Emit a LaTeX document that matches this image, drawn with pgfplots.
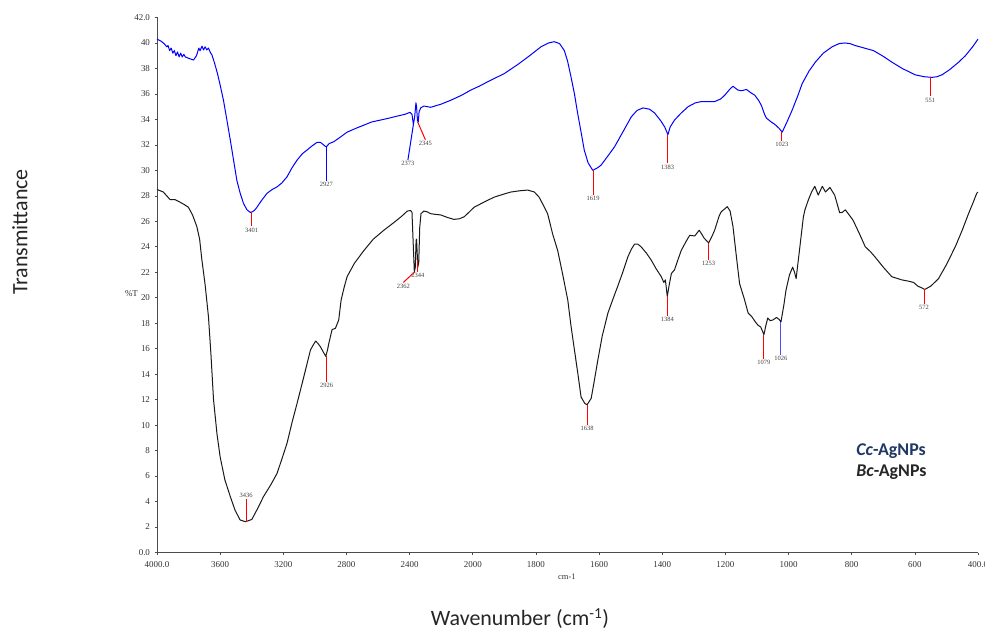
\documentclass[border=0pt]{standalone}
\usepackage{fontspec}
\setmainfont{Liberation Serif}
\newfontfamily\calibri{Carlito}
\usepackage{pgfplots}
\pgfplotsset{compat=1.18}
\usepackage{pgfplotstable}
\definecolor{ccblue}{HTML}{1F3864}
\newcommand\WNpos[1]{\fpeval{(#1>=2000) ? ((4000-#1)/400) : (5+(2000-#1)/200)}}
\tikzset{pk/.style={font=\fontsize{6.5}{6.5}\selectfont, text=black!75, inner sep=1bp}}

\pgfplotstableread{
wn T
4000 40.3
3975 40.15
3955 39.95
3938 39.7
3930 39.8
3920 39.4
3910 39.6
3900 39.2
3890 39.4
3880 39.0
3870 39.3
3860 38.9
3850 39.2
3840 38.9
3830 39.1
3820 38.9
3800 38.8
3769 38.66
3750 39.0
3735 39.6
3727 39.4
3715 39.75
3705 39.45
3695 39.7
3685 39.45
3674 39.6
3660 39.2
3653 39.1
3635 38.4
3617 37.6
3600 36.7
3579 35.5
3558 34.0
3536 32.4
3515 30.8
3494 29.2
3473 28.2
3452 27.4
3430 26.9
3409 26.7
3395 26.75
3380 26.9
3367 27.1
3340 27.6
3303 28.2
3270 28.5
3240 28.7
3210 29.0
3176 29.5
3145 30.2
3113 30.8
3080 31.3
3049 31.6
3020 31.9
2986 32.2
2965 32.2
2950 32.05
2935 31.9
2927 31.85
2910 32.1
2880 32.25
2840 32.6
2796 33.0
2740 33.3
2690 33.55
2640 33.8
2584 33.95
2530 34.1
2478 34.26
2430 34.4
2398 34.55
2385 34.4
2376 33.6
2368 34.2
2360 35.3
2356 35.0
2350 33.9
2345 33.8
2340 34.6
2330 34.9
2309 35.05
2267 34.95
2200 35.2
2140 35.5
2070 35.9
2013 36.3
1980 36.6
1953 36.95
1900 37.6
1858 38.3
1820 39.0
1784 39.7
1760 40.0
1742 40.1
1725 39.95
1710 39.4
1700 38.6
1689 37.35
1678 36.0
1668 34.5
1657 33.0
1647 31.6
1635 30.6
1620 30.0
1605 30.2
1594 30.4
1570 31.2
1551 31.85
1525 33.0
1498 34.2
1480 34.7
1461 34.9
1440 34.8
1424 34.5
1405 33.9
1392 33.4
1382 32.8
1375 33.4
1361 33.95
1340 34.5
1318 35.0
1295 35.3
1276 35.4
1255 35.4
1234 35.4
1215 35.6
1202 35.9
1185 36.4
1176 36.6
1160 36.3
1149 36.25
1133 36.35
1120 36.1
1107 35.9
1095 35.5
1086 35.1
1076 34.4
1070 34.1
1055 33.8
1043 33.6
1030 33.3
1020 33.0
1005 33.8
989 34.7
970 35.9
957 36.8
935 37.8
915 38.5
890 39.2
862 39.7
840 39.95
821 40.0
805 39.95
789 39.8
760 39.6
731 39.4
700 38.95
673 38.5
640 38.0
599 37.5
570 37.35
546 37.3
530 37.35
514 37.5
490 37.9
461 38.5
440 39.0
417 39.7
400 40.3
}\ccdata

\pgfplotstableread{
wn T
4000 28.5
3960 28.3
3917 27.7
3885 27.7
3854 27.5
3825 27.3
3801 27.1
3775 26.5
3748 25.6
3730 24.6
3716 23.0
3695 21.0
3674 18.5
3658 15.5
3642 12.0
3620 9.3
3600 7.5
3570 5.7
3536 4.4
3505 3.3
3473 2.55
3441 2.42
3420 2.5
3399 2.6
3365 3.4
3325 4.4
3280 5.3
3240 6.2
3210 7.3
3176 8.6
3145 10.2
3113 11.7
3070 13.8
3028 15.9
3010 16.3
2995 16.6
2980 16.4
2965 16.15
2945 15.7
2931 15.4
2920 15.9
2912 16.4
2891 17.5
2870 17.6
2849 18.25
2834 19.8
2815 20.8
2796 21.65
2750 22.7
2690 23.7
2630 24.6
2563 25.3
2500 25.9
2450 26.4
2415 26.8
2394 26.85
2385 26.7
2378 24.5
2370 22.0
2364 22.4
2359 24.5
2356 24.6
2352 23.5
2348 22.4
2342 22.8
2336 25.5
2328 26.6
2310 26.8
2290 26.75
2267 26.6
2240 26.55
2203 26.5
2160 26.3
2119 26.15
2085 26.2
2055 26.35
2025 26.7
1996 27.1
1965 27.5
1932 27.9
1900 28.15
1879 28.3
1850 28.4
1826 28.45
1805 28.3
1790 27.9
1773 27.1
1763 26.6
1747 25.0
1731 23.7
1715 21.8
1699 19.8
1689 17.8
1678 15.9
1667 14.0
1657 12.2
1645 11.7
1638 11.6
1625 12.1
1615 13.5
1604 15.1
1590 17.0
1572 18.8
1556 19.9
1541 20.9
1525 22.0
1509 23.2
1498 23.8
1488 24.2
1477 24.2
1467 24.0
1450 23.5
1435 22.96
1420 22.3
1403 21.65
1395 21.2
1390 21.4
1384 20.1
1378 21.0
1371 21.9
1361 22.2
1350 23.0
1340 23.7
1325 24.4
1313 24.9
1297 24.85
1283 25.3
1275 25.0
1268 24.7
1253 24.3
1243 24.8
1234 25.3
1220 26.4
1213 26.75
1194 27.15
1185 26.8
1176 25.6
1165 23.2
1155 21.1
1140 19.9
1128 18.8
1116 18.5
1105 18.1
1097 17.85
1088 17.7
1078 17.1
1072 17.8
1066 18.4
1058 18.2
1050 18.25
1038 18.45
1030 18.3
1024 18.1
1015 19.4
1008 20.6
997 21.8
987 22.4
981 22.0
976 21.5
965 23.8
953 26.35
948 26.9
937 27.7
927 28.3
917 28.75
906 28.06
893 28.75
883 28.3
869 28.66
854 28.06
838 26.67
830 26.7
820 26.9
808 26.5
796 26.1
775 25.0
757 24.0
740 23.6
726 23.2
700 22.4
673 21.65
641 21.4
620 21.3
604 21.2
590 20.9
580 20.8
569 20.65
550 20.9
525 21.5
500 22.6
472 24.0
450 25.3
430 26.6
415 27.5
404 28.2
400 28.3
}\bcdata

\begin{document}
\begin{tikzpicture}
\useasboundingbox (-157bp,-83.5bp) rectangle (828bp,552.5bp);
\begin{axis}[
  at={(0,0)}, anchor=south west,
  scale only axis, width=821bp, height=535bp,
  xmin=0, xmax=13, ymin=0, ymax=42,
  axis x line*=bottom, axis y line*=left,
  axis line style={draw=black!70,-},
  xtick={0,1,...,13},
  xticklabels={4000.0,3600,3200,2800,2400,2000,1800,1600,1400,1200,1000,800,600,400.0},
  ytick={0,2,...,42},
  yticklabels={0.0,2,4,6,8,10,12,14,16,18,20,22,24,26,28,30,32,34,36,38,40,42.0},
  tick align=outside, major tick length=2.5bp,
  tick style={draw=black!70, line width=0.6bp},
  tick label style={font=\fontsize{9}{9}\selectfont, text=black!80},
  xticklabel style={yshift=-3bp},
  yticklabel style={xshift=-1bp},
  clip=false,
]
\addplot[blue, line width=1bp, line join=round] table[x expr={\thisrow{wn}>=2000 ? (4000-\thisrow{wn})/400 : 5+(2000-\thisrow{wn})/200}, y=T]{\ccdata};
\addplot[black!90, line width=1bp, line join=round] table[x expr={\thisrow{wn}>=2000 ? (4000-\thisrow{wn})/400 : 5+(2000-\thisrow{wn})/200}, y=T]{\bcdata};

% Cc-AgNPs peaks
\draw[red, line width=1bp] (axis cs:\WNpos{3401},26.7) -- (axis cs:\WNpos{3401},25.6) node[below,pk]{3401};
\draw[blue, line width=1bp] (axis cs:\WNpos{2927},31.85) -- (axis cs:\WNpos{2927},29.2) node[below,pk]{2927};
\draw[blue, line width=1bp] (axis cs:\WNpos{2376},33.6) -- (axis cs:\WNpos{2411},30.8) node[below,pk]{2373};
\draw[red, line width=1bp] (axis cs:\WNpos{2349},33.8) -- (axis cs:\WNpos{2300},32.4) node[below,pk]{2345};
\draw[red, line width=1bp] (axis cs:\WNpos{1619},30.0) -- (axis cs:\WNpos{1619},28.06) node[below,pk]{1619};
\draw[red, line width=1bp] (axis cs:\WNpos{1383},32.8) -- (axis cs:\WNpos{1383},30.55) node[below,pk]{1383};
\draw[red, line width=1bp] (axis cs:\WNpos{1021},33.0) -- (axis cs:\WNpos{1021},32.3) node[below,pk]{1023};
\draw[red, line width=1bp] (axis cs:\WNpos{551},37.3) -- (axis cs:\WNpos{551},35.8) node[below,pk]{551};

% Bc-AgNPs peaks
\draw[red, line width=1bp] (axis cs:\WNpos{3436},2.42) -- (axis cs:\WNpos{3436},4.18) node[above,pk]{3436};
\draw[red, line width=1bp] (axis cs:\WNpos{2926},15.45) -- (axis cs:\WNpos{2926},13.4) node[below,pk]{2926};
\draw[red, line width=1bp] (axis cs:\WNpos{2370},22.0) -- (axis cs:\WNpos{2440},21.2) node[below,pk]{2362};
\draw[red, line width=1bp] (axis cs:\WNpos{2348},23.0) -- (axis cs:\WNpos{2348},22.04) node[below,pk]{2344};
\draw[red, line width=1bp] (axis cs:\WNpos{1638},11.6) -- (axis cs:\WNpos{1638},10.0) node[below,pk]{1638};
\draw[red, line width=1bp] (axis cs:\WNpos{1384},20.1) -- (axis cs:\WNpos{1384},18.6) node[below,pk]{1384};
\draw[red, line width=1bp] (axis cs:\WNpos{1253},24.3) -- (axis cs:\WNpos{1253},22.96) node[below,pk]{1253};
\draw[red, line width=1bp] (axis cs:\WNpos{1078},17.1) -- (axis cs:\WNpos{1078},15.2) node[below,pk]{1079};
\draw[blue!70, line width=1bp] (axis cs:\WNpos{1024},18.1) -- (axis cs:\WNpos{1024},15.5) node[below,pk]{1026};
\draw[red, line width=1bp] (axis cs:\WNpos{571},20.65) -- (axis cs:\WNpos{571},19.5) node[below,pk]{572};

% inner labels
\node[font=\fontsize{9}{9}\selectfont, text=black!80] at (axis cs:0,20.35) [xshift=-25.5bp] {\%T};
\node[font=\fontsize{8.5}{8.5}\selectfont, text=black!80] at (axis cs:6.49,0) [yshift=-24.5bp] {cm-1};

% legend texts
\node[anchor=west, font=\calibri\bfseries\fontsize{18}{18}\selectfont, text=ccblue, inner sep=0pt] at (axis cs:11.07,7.99) {\textit{Cc}-AgNPs};
\node[anchor=west, font=\calibri\bfseries\fontsize{18}{18}\selectfont, text=black!85, inner sep=0pt] at (axis cs:11.07,6.3) {\textit{Bc}-AgNPs};
\end{axis}
\node[rotate=90, font=\calibri\fontsize{22}{22}\selectfont, text=black!85] at (-137bp,320.5bp) {Transmittance};
\node[font=\calibri\fontsize{22}{22}\selectfont, text=black!85] at (363bp,-66bp) {Wavenumber (cm\textsuperscript{-1})};
\end{tikzpicture}
\end{document}
